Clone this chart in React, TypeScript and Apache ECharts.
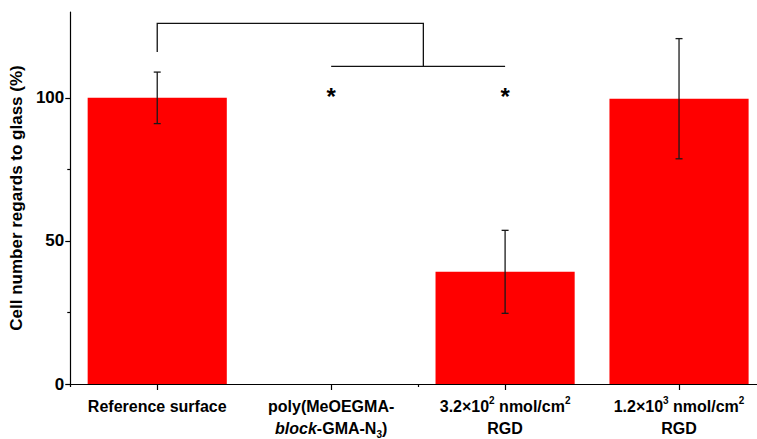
import React, { useEffect, useRef } from "react";
import * as echarts from "echarts";

const categories = [
  "Reference surface",
  "poly(MeOEGMA-\n{i|block}-GMA-N{sub|3})",
  "3.2×10{sup|2} nmol/cm{sup|2}\nRGD",
  "1.2×10{sup|3} nmol/cm{sup|2}\nRGD",
];
const values = [100, 0, 39.2, 99.7];
const errors = [9, 0, 14.5, 21];
const yMajorTicks = [0, 50, 100];
const yMinorTicks = [25, 75];
const yMax = 130;
// significance annotation (category index / value units)
const bracketLeftCat = 0;
const bracketLeftBottom = 116.0;
const bracketTop = 126.0;
const bracketJoinCat = 1.53;
const lowerBarCats = [1, 2];
const lowerBarY = 111.0;
const starCats = [1, 2];
const starY = 104.7;

const FONT = "'Liberation Sans', Arial, sans-serif";

export default function App() {
  const ref = useRef<HTMLDivElement>(null);
  useEffect(() => {
    if (!ref.current) return;
    const chart = echarts.init(ref.current, undefined, { renderer: "svg" });
    const errData = values.map((v, i) => [i, v, errors[i]]);
    const option: any = {
      animation: false,
      backgroundColor: "#fff",
      grid: { left: 68, right: 0, top: 12, bottom: 52, containLabel: false },
      xAxis: [
        {
          type: "category",
          data: categories,
          position: "bottom",
          axisLine: { show: true, lineStyle: { color: "#000", width: 1.2 } },
          axisTick: { show: true, alignWithLabel: true, length: 6, lineStyle: { color: "#000", width: 1.2 } },
          axisLabel: {
            interval: 0,
            margin: 11,
            color: "#000",
            fontFamily: FONT,
            fontWeight: "bold",
            fontSize: 16,
            lineHeight: 22,
            align: "center",
            rich: {
              i: { fontFamily: FONT, fontWeight: "bold", fontStyle: "italic", fontSize: 16, color: "#000", lineHeight: 22 },
              sup: { fontFamily: FONT, fontWeight: "bold", fontSize: 10, color: "#000", verticalAlign: "top", lineHeight: 14 },
              sub: { fontFamily: FONT, fontWeight: "bold", fontSize: 10, color: "#000", verticalAlign: "bottom", lineHeight: 12 },
            },
          },
          splitLine: { show: false },
        },
        {
          type: "category",
          data: categories,
          position: "bottom",
          axisLine: { show: false },
          axisTick: { show: true, alignWithLabel: false, length: 3, lineStyle: { color: "#000", width: 1.2 } },
          axisLabel: { show: false },
          splitLine: { show: false },
        },
      ],
      yAxis: [
        {
          type: "value",
          min: 0,
          max: yMax,
          position: "left",
          name: "Cell number regards to glass (%)",
          nameLocation: "middle",
          nameGap: 44,
          nameTextStyle: { color: "#000", fontFamily: FONT, fontWeight: "bold", fontSize: 17 },
          axisLine: { show: true, lineStyle: { color: "#000", width: 1.2 } },
          axisTick: { show: true, length: 5, customValues: yMajorTicks, lineStyle: { color: "#000", width: 1.2 } },
          axisLabel: {
            customValues: yMajorTicks,
            color: "#000",
            fontFamily: FONT,
            fontWeight: "bold",
            fontSize: 17,
            margin: 6,
          },
          splitLine: { show: false },
        },
        {
          type: "value",
          min: 0,
          max: yMax,
          position: "left",
          axisLine: { show: false },
          axisTick: { show: true, length: 3, customValues: yMinorTicks, lineStyle: { color: "#000", width: 1.2 } },
          axisLabel: { show: false },
          splitLine: { show: false },
        },
      ],
      series: [
        {
          type: "bar",
          data: values,
          barCategoryGap: "20%",
          itemStyle: { color: "#ff0000" },
          xAxisIndex: 0,
          yAxisIndex: 0,
        },
        {
          type: "custom",
          xAxisIndex: 0,
          yAxisIndex: 0,
          data: errData,
          z: 5,
          renderItem: (params: any, api: any) => {
            const i = api.value(0);
            const v = api.value(1);
            const e = api.value(2);
            if (!e) return null;
            const top = api.coord([i, v + e]);
            const bot = api.coord([i, v - e]);
            const hw = 3.5;
            const style = { stroke: "#1a1a1a", lineWidth: 1.3 };
            return {
              type: "group",
              children: [
                { type: "line", shape: { x1: top[0], y1: top[1], x2: bot[0], y2: bot[1] }, style },
                { type: "line", shape: { x1: top[0] - hw, y1: top[1], x2: top[0] + hw, y2: top[1] }, style },
                { type: "line", shape: { x1: bot[0] - hw, y1: bot[1], x2: bot[0] + hw, y2: bot[1] }, style },
              ],
            };
          },
        },
        {
          type: "custom",
          xAxisIndex: 0,
          yAxisIndex: 0,
          data: [0],
          z: 6,
          renderItem: (params: any, api: any) => {
            const catX = (c: number) => {
              const f = Math.floor(c);
              const a = api.coord([f, 0])[0];
              if (c === f) return a;
              const b = api.coord([f + 1, 0])[0];
              return a + (b - a) * (c - f);
            };
            const yPx = (v: number) => api.coord([0, v])[1];
            const style = { stroke: "#111", lineWidth: 1.3, fill: null };
            const children: any[] = [
              {
                type: "polyline",
                shape: {
                  points: [
                    [catX(bracketLeftCat), yPx(bracketLeftBottom)],
                    [catX(bracketLeftCat), yPx(bracketTop)],
                    [catX(bracketJoinCat), yPx(bracketTop)],
                    [catX(bracketJoinCat), yPx(lowerBarY)],
                  ],
                },
                style,
              },
              {
                type: "line",
                shape: {
                  x1: catX(lowerBarCats[0]),
                  y1: yPx(lowerBarY),
                  x2: catX(lowerBarCats[1]),
                  y2: yPx(lowerBarY),
                },
                style,
              },
            ];
            starCats.forEach((c) => {
              children.push({
                type: "text",
                x: catX(c),
                y: yPx(starY),
                style: {
                  text: "*",
                  fill: "#000",
                  font: "bold 24px " + FONT,
                  align: "center",
                  verticalAlign: "top",
                },
              });
            });
            return { type: "group", children };
          },
        },
      ],
    };
    chart.setOption(option);
    return () => chart.dispose();
  }, []);
  return (
    <div
      style={{
        position: "absolute",
        left: 0,
        top: 0,
        width: 757,
        height: 439,
        overflow: "hidden",
      }}
    >
      <div ref={ref} style={{ width: 766, height: 439 }} />
    </div>
  );
}
